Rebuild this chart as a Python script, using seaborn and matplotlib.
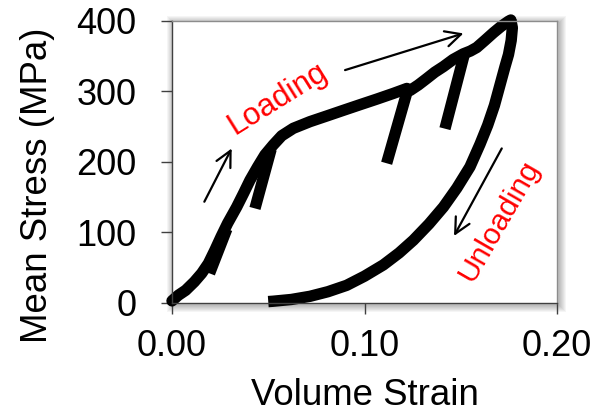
import matplotlib
matplotlib.use("Agg")
import matplotlib.pyplot as plt
import seaborn as sns
import pandas as pd
from matplotlib.patches import Rectangle
from matplotlib.ticker import FormatStrFormatter

# Primary loading path (with reloads after each partial unload)
loading_strain = [0.0000, 0.0033, 0.0071, 0.0116, 0.0154, 0.0189, 0.0223, 0.0255, 0.0289,
                  0.0336, 0.0371, 0.0405, 0.0445, 0.0483, 0.0526, 0.0570, 0.0630, 0.0717,
                  0.0804, 0.0890, 0.0977, 0.1065, 0.1150, 0.1220, 0.1236, 0.1280, 0.1323,
                  0.1365, 0.1410, 0.1460, 0.1513, 0.1550, 0.1583, 0.1625, 0.1670, 0.1710,
                  0.1747, 0.1760]
loading_stress = [3, 11, 18, 30, 42, 56, 75, 94, 113,
                  136, 155, 174, 193, 210, 224, 237, 247.5, 257,
                  265, 273, 281, 289, 297, 304, 301, 309, 318,
                  327, 335, 345, 353, 357, 362, 372, 383, 392,
                  399, 401]

# Final unloading path
unloading_strain = [0.1760, 0.1768, 0.1762, 0.1748, 0.1730, 0.1705, 0.1675, 0.1640, 0.1600,
                    0.1548, 0.1480, 0.1410, 0.1335, 0.1254, 0.1180, 0.1098, 0.1000, 0.0907,
                    0.0810, 0.0717, 0.0620, 0.0525, 0.0500]
unloading_stress = [401, 390, 372, 352, 335, 310, 280, 252, 225,
                    193, 163, 136, 112, 89, 71, 54, 38, 25,
                    16, 9.5, 5, 2.5, 2]

# Partial unload branches
cycle_strain = [[0.0285, 0.0195], [0.0515, 0.0431], [0.1225, 0.1115], [0.1520, 0.1418]]
cycle_stress = [[105, 42], [218, 134], [303, 198], [354, 247]]

x_ticks = [0.00, 0.10, 0.20]
y_ticks = [0, 100, 200, 300, 400]

sns.set_theme(style="white")
plt.rcParams["font.family"] = ["Liberation Sans", "DejaVu Sans"]
plt.rcParams["text.color"] = "black"

W, H = 594, 418
fig = plt.figure(figsize=(W / 100, H / 100), dpi=100)
L, R, T, B = 172, 557, 20.7, 303
ax = fig.add_axes([L / W, 1 - B / H, (R - L) / W, (B - T) / H])
ax.set_zorder(2)

# soft drop shadow around the plot area
for i in range(7, 0, -1):
    fig.patches.append(Rectangle(((L - i + 2) / W, 1 - (B + i + 2) / H),
                                 (R - L + 2 * i) / W, (B - T + 2 * i) / H,
                                 transform=fig.transFigure, facecolor="black",
                                 alpha=0.04, lw=0, zorder=0))

line_kw = dict(color="black", linewidth=8.2, estimator=None, sort=False, ax=ax,
               solid_joinstyle="round", clip_on=False)

sns.lineplot(data=pd.DataFrame({"strain": loading_strain, "stress": loading_stress}),
             x="strain", y="stress", solid_capstyle="round", **line_kw)
sns.lineplot(data=pd.DataFrame({"strain": unloading_strain, "stress": unloading_stress}),
             x="strain", y="stress", solid_capstyle="butt", **line_kw)
for xs, ys in zip(cycle_strain, cycle_stress):
    sns.lineplot(data=pd.DataFrame({"strain": xs, "stress": ys}),
                 x="strain", y="stress", solid_capstyle="butt", **line_kw)

arrow_kw = dict(arrowstyle="->", color="black", lw=1.6, mutation_scale=28,
                shrinkA=0, shrinkB=0)
ax.annotate("", xy=(0.031, 219), xytext=(0.0168, 143.5), arrowprops=arrow_kw)
ax.annotate("", xy=(0.1514, 382), xytext=(0.0899, 330), arrowprops=arrow_kw)
ax.annotate("", xy=(0.1465, 95), xytext=(0.1713, 219), arrowprops=arrow_kw)

ax.text(0.0550, 290, "Loading", color="red", fontsize=22.5, rotation=32,
        ha="center", va="center", rotation_mode="anchor")
ax.text(0.1700, 116, "Unloading", color="red", fontsize=21.5, rotation=60,
        ha="center", va="center", rotation_mode="anchor")

ax.set_xlim(0, 0.20)
ax.set_ylim(0, 400)
ax.set_xticks(x_ticks)
ax.set_yticks(y_ticks)
ax.xaxis.set_major_formatter(FormatStrFormatter("%.2f"))
ax.set_xlabel("Volume Strain", fontsize=26.4, color="black")
ax.set_ylabel("Mean Stress (MPa)", fontsize=26.4, color="black")
ax.xaxis.set_label_coords(0.5, -0.266)
ax.yaxis.set_label_coords(-0.305, 0.416)
ax.tick_params(axis="both", direction="out", length=8, width=1, color="#404040",
               labelsize=26, labelcolor="black", bottom=True, left=True)
ax.tick_params(axis="x", pad=10.5)
ax.tick_params(axis="y", pad=17.5)
for side in ("left", "bottom"):
    ax.spines[side].set_color("#404040")
    ax.spines[side].set_linewidth(1.0)
for side in ("top", "right"):
    ax.spines[side].set_color("#8c8c8c")
    ax.spines[side].set_linewidth(1.0)
ax.set_facecolor("white")

fig.savefig("out.png", dpi=100)
